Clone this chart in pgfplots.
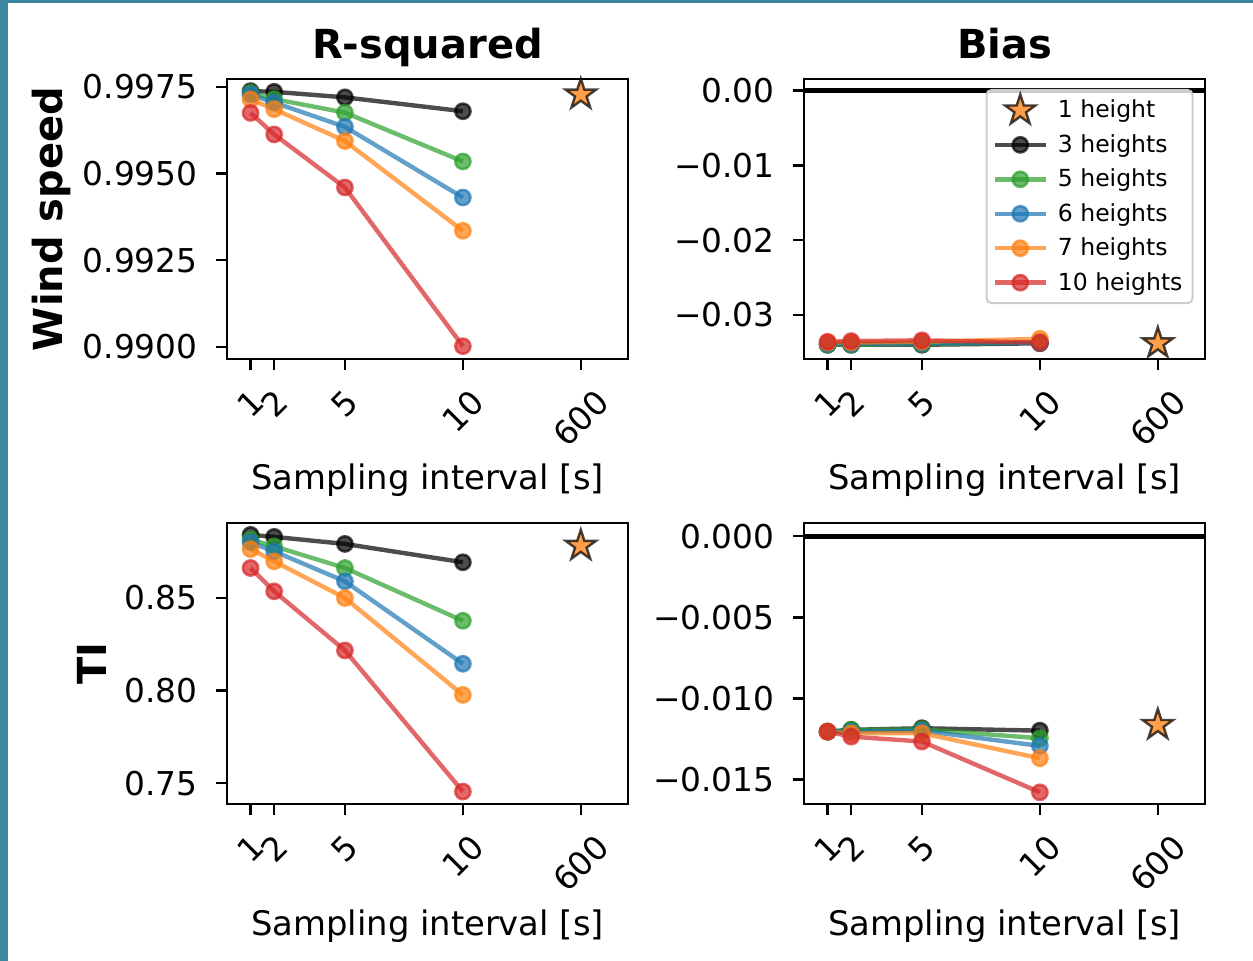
\documentclass[border=0pt]{standalone}
\usepackage{fontspec}
\setmainfont{DejaVu Sans}
\usepackage{graphicx}
\usepackage{pgfplots}
\pgfplotsset{compat=1.18}
\definecolor{tabblue}{HTML}{1F77B4}
\definecolor{taborange}{HTML}{FF7F0E}
\definecolor{tabgreen}{HTML}{2CA02C}
\definecolor{tabred}{HTML}{D62728}
\definecolor{frameteal}{HTML}{3B87A1}
\pgfdeclareplotmark{mystar}{%
  \pgfpathmoveto{\pgfpointpolar{90}{\pgfplotmarksize}}%
  \pgfpathlineto{\pgfpointpolar{126}{0.382\pgfplotmarksize}}%
  \pgfpathlineto{\pgfpointpolar{162}{\pgfplotmarksize}}%
  \pgfpathlineto{\pgfpointpolar{198}{0.382\pgfplotmarksize}}%
  \pgfpathlineto{\pgfpointpolar{234}{\pgfplotmarksize}}%
  \pgfpathlineto{\pgfpointpolar{270}{0.382\pgfplotmarksize}}%
  \pgfpathlineto{\pgfpointpolar{306}{\pgfplotmarksize}}%
  \pgfpathlineto{\pgfpointpolar{342}{0.382\pgfplotmarksize}}%
  \pgfpathlineto{\pgfpointpolar{18}{\pgfplotmarksize}}%
  \pgfpathlineto{\pgfpointpolar{54}{0.382\pgfplotmarksize}}%
  \pgfpathclose
  \pgfusepathqfillstroke
}
\newcommand{\rl}[1]{\rotatebox{45}{#1}}
\pgfplotsset{
  every axis title shift=0pt,
  panel/.style={
    scale only axis, width=200.5pt, height=140pt,
    xmin=0, xmax=17,
    xtick={1,2,5,10,15},
    xticklabels={\rl{1},\rl{2},\rl{5},\rl{10},\rl{600}},
    xticklabel style={anchor=north, inner sep=0pt, yshift=-8.5pt},
    yticklabel style={anchor=east, inner sep=0pt, xshift=-9pt},
    scaled y ticks=false,
    tick align=outside, major tick length=5.5pt,
    xtick pos=left, ytick pos=left,
    minor tick num=0,
    every tick/.style={black, line width=1.2pt},
    axis line style={line width=1.2pt},
    tick label style={font=\fontsize{16.4}{19}\selectfont},
    xlabel={Sampling interval [s]},
    xlabel style={at={(axis description cs:0.5,-0.467)}, anchor=base, font=\fontsize{16.9}{19}\selectfont},
    title style={at={(axis description cs:0.5,1)}, anchor=base, yshift=10.35pt, font=\bfseries\fontsize{20}{24}\selectfont},
    ylabel style={anchor=base, font=\bfseries\fontsize{20}{24}\selectfont},
    clip=false,
  },
  ser/.style={color=#1, line width=2.2pt, opacity=0.7, mark=*, mark size=3.8pt,
    mark options={line width=1.3pt, fill=#1, draw=#1}},
  starpt/.style={only marks, mark=mystar, mark size=8pt,
    mark options={fill=taborange, fill opacity=0.75, draw=black, draw opacity=0.72, line width=1.2pt}},
  linelegend/.style={legend image code/.code={\draw[mark repeat=2,mark phase=2,##1] plot coordinates {(0pt,0pt)(12.75pt,0pt)(25.5pt,0pt)};}},
  starlegend/.style={legend image code/.code={\draw[overlay,mark repeat=2,mark phase=2,##1] plot coordinates {(0pt,0pt)(12.75pt,0pt)(25.5pt,0pt)};}},
}
\begin{document}
\begin{tikzpicture}
\useasboundingbox (0,0) rectangle (626.5pt,480.5pt);
\fill[frameteal] (0,0) rectangle (4pt,480.5pt);
\fill[frameteal] (0,478.8pt) rectangle (626.5pt,480.5pt);
% ---------------- top left: R-squared, wind speed
\begin{axis}[panel, at={(113.5pt,301pt)}, anchor=south west,
  ymin=0.98965, ymax=0.99773,
  ytick={0.99,0.9925,0.995,0.9975},
  yticklabels={0.9900,0.9925,0.9950,0.9975},
  title={R-squared},
  ylabel={Wind speed},
  ylabel style={at={(axis description cs:-0.409,0.5)}},
]
\addplot[starpt] coordinates {(15,0.99728)};
\addplot[ser=black] coordinates {(1,0.99738)(2,0.99736)(5,0.99720)(10,0.99680)};
\addplot[ser=tabgreen] coordinates {(1,0.99733)(2,0.99715)(5,0.99676)(10,0.99535)};
\addplot[ser=tabblue] coordinates {(1,0.99728)(2,0.99705)(5,0.99635)(10,0.99431)};
\addplot[ser=taborange] coordinates {(1,0.99714)(2,0.99686)(5,0.99594)(10,0.99335)};
\addplot[ser=tabred] coordinates {(1,0.99675)(2,0.99613)(5,0.99460)(10,0.99002)};
\end{axis}
% ---------------- top right: Bias, wind speed
\begin{axis}[panel, at={(402pt,301pt)}, anchor=south west,
  ymin=-0.0359, ymax=0.00156,
  ytick={-0.03,-0.02,-0.01,0},
  yticklabels={−0.03,−0.02,−0.01,0.00},
  title={Bias},
  legend style={at={(1,1)}, anchor=north east, xshift=-5.75pt, yshift=-5pt,
    draw=black!20, line width=1pt, rounded corners=2.4pt, fill=white, fill opacity=0.8, text opacity=1,
    font=\fontsize{11.75}{14}\selectfont, row sep=2.8pt, column sep=3pt, inner xsep=3pt, inner ysep=3pt},
  legend cell align=left,
]
\addplot[black, line width=2.4pt, forget plot] coordinates {(0,0)(17,0)};
\addplot[starpt, starlegend] coordinates {(15,-0.0338)};
\addlegendentry{1 height}
\addplot[ser=black, linelegend] coordinates {(1,-0.0340)(2,-0.0340)(5,-0.0340)(10,-0.0338)};
\addlegendentry{3 heights}
\addplot[ser=tabgreen, linelegend] coordinates {(1,-0.0340)(2,-0.0340)(5,-0.0339)(10,-0.0337)};
\addlegendentry{5 heights}
\addplot[ser=tabblue, linelegend] coordinates {(1,-0.0339)(2,-0.0339)(5,-0.0338)(10,-0.0337)};
\addlegendentry{6 heights}
\addplot[ser=taborange, linelegend] coordinates {(1,-0.0337)(2,-0.0337)(5,-0.0336)(10,-0.0332)};
\addlegendentry{7 heights}
\addplot[ser=tabred, linelegend] coordinates {(1,-0.0336)(2,-0.0335)(5,-0.0334)(10,-0.0337)};
\addlegendentry{10 heights}
\end{axis}
% ---------------- bottom left: R-squared, TI
\begin{axis}[panel, at={(113.5pt,78.5pt)}, anchor=south west, height=140.5pt,
  ymin=0.7388, ymax=0.8905,
  ytick={0.75,0.80,0.85},
  yticklabels={0.75,0.80,0.85},
  ylabel={TI},
  ylabel style={at={(axis description cs:-0.3005,0.5)}},
]
\addplot[starpt] coordinates {(15,0.8782)};
\addplot[ser=black] coordinates {(1,0.8841)(2,0.8830)(5,0.8792)(10,0.8693)};
\addplot[ser=tabgreen] coordinates {(1,0.8815)(2,0.8779)(5,0.8662)(10,0.8377)};
\addplot[ser=tabblue] coordinates {(1,0.8801)(2,0.8752)(5,0.8590)(10,0.8145)};
\addplot[ser=taborange] coordinates {(1,0.8764)(2,0.8698)(5,0.8500)(10,0.7977)};
\addplot[ser=tabred] coordinates {(1,0.8662)(2,0.8536)(5,0.8217)(10,0.7455)};
\end{axis}
% ---------------- bottom right: Bias, TI
\begin{axis}[panel, at={(402pt,78.5pt)}, anchor=south west, height=140.5pt,
  ymin=-0.0165, ymax=0.00082,
  ytick={-0.015,-0.01,-0.005,0},
  yticklabels={−0.015,−0.010,−0.005,0.000},
]
\addplot[black, line width=2.4pt, forget plot] coordinates {(0,0)(17,0)};
\addplot[starpt] coordinates {(15,-0.01163)};
\addplot[ser=black] coordinates {(1,-0.01204)(2,-0.01193)(5,-0.01183)(10,-0.01198)};
\addplot[ser=tabgreen] coordinates {(1,-0.01204)(2,-0.01193)(5,-0.01190)(10,-0.01245)};
\addplot[ser=tabblue] coordinates {(1,-0.01204)(2,-0.01204)(5,-0.01198)(10,-0.01292)};
\addplot[ser=taborange] coordinates {(1,-0.01204)(2,-0.01214)(5,-0.01214)(10,-0.01368)};
\addplot[ser=tabred] coordinates {(1,-0.01204)(2,-0.01235)(5,-0.01265)(10,-0.01578)};
\end{axis}
\end{tikzpicture}
\end{document}
